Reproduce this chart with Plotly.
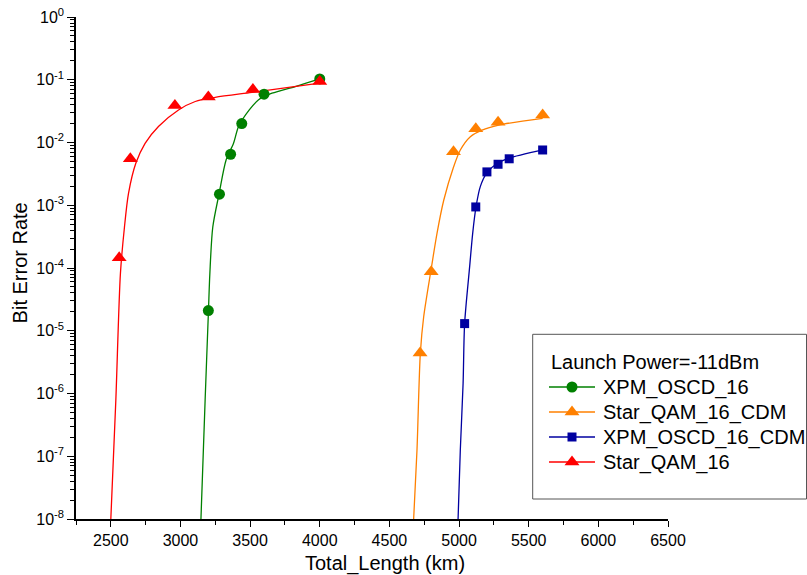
import plotly.graph_objects as go

# ---- data ----
xpm_x = [3200, 3280, 3360, 3440, 3600, 4000]
xpm_y = [2.1e-5, 1.5e-3, 6.5e-3, 2.0e-2, 5.9e-2, 1.03e-1]

star_x = [2560, 2640, 2960, 3200, 3520, 4000]
star_y = [1.45e-4, 5.5e-3, 3.9e-2, 5.3e-2, 7.0e-2, 9.4e-2]

star_cdm_x = [4720, 4800, 4960, 5120, 5280, 5600]
star_cdm_y = [4.4e-6, 8.7e-5, 7.1e-3, 1.65e-2, 2.1e-2, 2.75e-2]

xpm_cdm_x = [5040, 5120, 5200, 5280, 5360, 5600]
xpm_cdm_y = [1.3e-5, 9.4e-4, 3.4e-3, 4.5e-3, 5.5e-3, 7.6e-3]

# fitted curves, points
xpm_fit_x = [3147, 3177, 3201, 3211, 3232, 3278, 3328, 3381, 3417, 3494, 3561, 3657, 3824, 4000]
xpm_fit_y = [1e-8, 7.9e-7, 2.1e-5, 8.2e-5, 4.5e-4, 1.55e-3, 5.3e-3, 9.7e-3, 1.8e-2, 3.3e-2, 4.8e-2, 6.1e-2, 7.8e-2, 1.03e-1]

star_fit_x = [2500, 2536, 2569, 2598, 2627, 2680, 2746, 2842, 2986, 3106, 3249, 3513, 4000]
star_fit_y = [1e-8, 7.9e-7, 8.2e-5, 4.5e-4, 1.55e-3, 4.7e-3, 9.7e-3, 1.8e-2, 3.3e-2, 4.5e-2, 5.25e-2, 6.3e-2, 8.8e-2]

star_cdm_fit_x = [4674, 4698, 4722, 4746, 4801, 4842, 4890, 4961, 5009, 5081, 5165, 5285, 5600]
star_cdm_fit_y = [1e-8, 1.26e-7, 4.4e-6, 1.67e-5, 1.0e-4, 3.6e-4, 1.2e-3, 4.1e-3, 7.6e-3, 1.24e-2, 1.58e-2, 1.9e-2, 2.43e-2]

xpm_cdm_fit_x = [4993, 5009, 5029, 5040, 5076, 5098, 5122, 5153, 5196, 5277, 5356, 5600]
xpm_cdm_fit_y = [1e-8, 1.26e-7, 1.45e-6, 1.3e-5, 1.05e-4, 3.6e-4, 9.5e-4, 2.0e-3, 3.2e-3, 4.7e-3, 5.6e-3, 7.6e-3]

x_ticks = [2500, 3000, 3500, 4000, 4500, 5000, 5500, 6000, 6500]
y_ticks = [1e-8, 1e-7, 1e-6, 1e-5, 1e-4, 1e-3, 1e-2, 1e-1, 1e0]
y_tick_text = ["10<sup>-8</sup>", "10<sup>-7</sup>", "10<sup>-6</sup>", "10<sup>-5</sup>",
               "10<sup>-4</sup>", "10<sup>-3</sup>", "10<sup>-2</sup>", "10<sup>-1</sup>", "10<sup>0</sup>"]

legend_title = "Launch Power=-11dBm"

series = [
    # name, marker x, marker y, fit x, fit y, color, symbol, size
    ("XPM_OSCD_16", xpm_x, xpm_y, xpm_fit_x, xpm_fit_y, "#008000", "circle", 11),
    ("Star_QAM_16_CDM", star_cdm_x, star_cdm_y, star_cdm_fit_x, star_cdm_fit_y, "#FF8000", "triangle-up", 13),
    ("XPM_OSCD_16_CDM", xpm_cdm_x, xpm_cdm_y, xpm_cdm_fit_x, xpm_cdm_fit_y, "#0000A0", "square", 9),
    ("Star_QAM_16", star_x, star_y, star_fit_x, star_fit_y, "#FF0000", "triangle-up", 13),
]

FONT = "Liberation Sans, Arial, sans-serif"
fig = go.Figure()

for name, mx, my, fx, fy, col, sym, sz in series:
    fig.add_trace(go.Scatter(x=fx, y=fy, mode="lines", line=dict(color=col, width=1.3, shape="spline", smoothing=0.8),
                             showlegend=False, hoverinfo="skip"))
for name, mx, my, fx, fy, col, sym, sz in series:
    fig.add_trace(go.Scatter(x=mx, y=my, mode="markers", marker=dict(color=col, symbol=sym, size=sz, line=dict(width=0)),
                             showlegend=False, name=name))

L, R, T, B = 76, 139, 17, 56
W, H = 807, 575
pw, ph = W - L - R, H - T - B

def px_x(p):
    return (p - L) / pw

def px_y(p):
    return (H - B - p) / ph

# ---- hand-built legend (to match the reference spacing) ----
shapes = [dict(type="rect", xref="paper", yref="paper",
               x0=px_x(532.7), x1=px_x(806.5), y0=px_y(499), y1=px_y(334.3),
               line=dict(color="#555555", width=1), fillcolor="rgba(0,0,0,0)")]
annotations = [
    dict(text="Total_Length (km)", xref="paper", yref="paper", x=px_x(385), y=px_y(563),
         xanchor="center", yanchor="middle", showarrow=False, font=dict(size=20, family=FONT)),
    dict(text="Bit Error Rate", xref="paper", yref="paper", x=px_x(20), y=px_y(263.4),
         xanchor="center", yanchor="middle", textangle=-90, showarrow=False, font=dict(size=20, family=FONT)),
    dict(text=legend_title, xref="paper", yref="paper", x=px_x(549), y=px_y(362),
         xanchor="left", yanchor="middle", showarrow=False, font=dict(size=20, family=FONT)),
]

def marker_path(sym, sz):
    r = sz / 2.0
    if sym == "triangle-up":
        rt = r * 2 / 3 ** 0.5
        return f"M{-rt:.2f},{-r/2:.2f} L{rt:.2f},{-r/2:.2f} L0,{r:.2f} Z"
    if sym == "square":
        return f"M{-r},{-r} L{r},{-r} L{r},{r} L{-r},{r} Z"
    return None

for i, (name, mx, my, fx, fy, col, sym, sz) in enumerate(series):
    yc = 387 + 25 * i
    shapes.append(dict(type="line", xref="paper", yref="paper", x0=px_x(549), x1=px_x(595),
                       y0=px_y(yc), y1=px_y(yc), line=dict(color=col, width=1.3)))
    xa, ya = px_x(572), px_y(yc)
    if sym == "circle":
        r = sz / 2.0
        shapes.append(dict(type="circle", xref="paper", yref="paper", xsizemode="pixel", ysizemode="pixel",
                           xanchor=xa, yanchor=ya, x0=-r, x1=r, y0=-r, y1=r,
                           fillcolor=col, line=dict(width=0)))
    else:
        shapes.append(dict(type="path", xref="paper", yref="paper", xsizemode="pixel", ysizemode="pixel",
                           xanchor=xa, yanchor=ya, path=marker_path(sym, sz),
                           fillcolor=col, line=dict(width=0)))
    annotations.append(dict(text=name, xref="paper", yref="paper", x=px_x(601), y=px_y(yc),
                            xanchor="left", yanchor="middle", showarrow=False,
                            font=dict(size=20, family=FONT)))

fig.update_layout(
    width=W, height=H,
    margin=dict(l=L, r=R, t=T, b=B, pad=0, autoexpand=False),
    paper_bgcolor="white", plot_bgcolor="white",
    font=dict(family=FONT, size=16, color="black"),
    xaxis=dict(range=[2250, 6500], tickmode="array", tickvals=x_ticks,
               showline=True, linecolor="black", linewidth=1.5,
               ticks="outside", ticklen=6, tickwidth=1.3, tickcolor="black",
               minor=dict(dtick=250, tick0=2250, ticks="outside", ticklen=4, tickwidth=1.3, tickcolor="black", showgrid=False),
               showgrid=False, zeroline=False, tickfont=dict(size=16)),
    yaxis=dict(type="log", range=[-8, 0], tickmode="array", tickvals=y_ticks, ticktext=y_tick_text,
               showline=True, linecolor="black", linewidth=1.5,
               ticks="outside", ticklen=7, tickwidth=1.3, tickcolor="black",
               minor=dict(dtick="D1", ticks="outside", ticklen=4, tickwidth=1.1, tickcolor="black", showgrid=False),
               showgrid=False, zeroline=False, tickfont=dict(size=16)),
    showlegend=False,
    shapes=shapes,
    annotations=annotations,
)

fig.write_html("out.html")
